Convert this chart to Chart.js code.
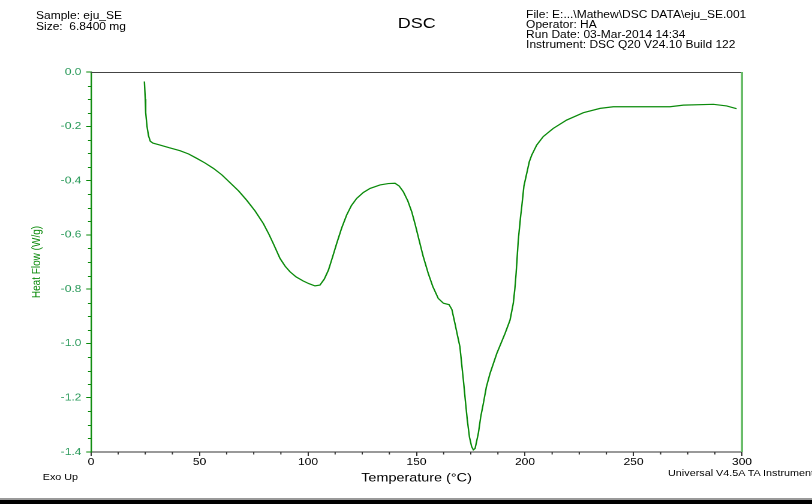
<!DOCTYPE html>
<html><head><meta charset="utf-8">
<script src="https://cdn.jsdelivr.net/npm/chart.js@4.4.0/dist/chart.umd.min.js"></script>
<style>
html,body{margin:0;padding:0;background:#fff;overflow:hidden;}
body{width:812px;height:504px;position:relative;font-family:"Liberation Sans",Arial,sans-serif;}
#wrap{position:absolute;left:0;top:0;width:677px;height:504px;transform:scaleX(1.19941);transform-origin:0 0;}
#box{position:absolute;left:0;top:0;width:677px;height:504px;}
.t{position:absolute;white-space:nowrap;color:#000;}
</style></head><body>
<div id="wrap">
  <div id="box"><canvas id="c"></canvas></div>
  <div class="t" style="left:30px;top:10px;font-size:10px;line-height:11px">Sample: eju_SE<br>Size:&nbsp; 6.8400 mg</div>
  <div class="t" style="left:247.4px;width:200px;text-align:center;top:14.9px;font-size:15px;line-height:15px">DSC</div>
  <div class="t" style="left:438.6px;top:10px;font-size:10px;line-height:10px">File: E:...\Mathew\DSC DATA\eju_SE.001<br>Operator: HA<br>Run Date: 03-Mar-2014 14:34<br>Instrument: DSC Q20 V24.10 Build 122</div>
  <div class="t" style="left:35.6px;top:472.6px;font-size:9px;line-height:9px">Exo Up</div>
  <div class="t" style="left:557px;top:468.5px;font-size:9px;line-height:9px">Universal V4.5A TA Instruments</div>
</div>
<div style="position:absolute;left:0;top:498px;width:812px;height:2px;background:#9a9a9a"></div>
<div style="position:absolute;left:0;top:500px;width:812px;height:4px;background:#000"></div>
<script>
// Data
const temperature = [24.6,25.0,25.2,25.8,26.5,27.3,28.5,31.8,36,41.0,45,48.7,52.5,56.4,60.3,64.1,68,71.7,75.6,79.4,82,84.0,87.1,89.5,91.7,94.5,97.8,100.5,103.2,105.5,107.5,109.4,111.3,113.2,115.5,117.8,120,122.4,125.5,128.6,133.2,137,140.1,142,143.9,146,147.8,149.5,150.8,153.1,155.4,157.5,160.0,162.4,165.0,166.3,167.7,169.0,170.0,171.0,171.6,172.5,173.4,174.4,175.4,176.2,177.0,178.5,179.6,180.8,182.2,183.9,187.0,190.8,193.1,194.6,195.3,195.9,196.9,198.0,198.5,199.5,200.8,202,203.1,205.4,208.4,213.0,219.2,226.9,234.6,240.7,256.1,266.8,273,286.8,292.9,297.5];
const heatFlow = [-0.035,-0.10,-0.15,-0.20,-0.235,-0.255,-0.262,-0.269,-0.279,-0.290,-0.302,-0.318,-0.335,-0.355,-0.379,-0.408,-0.438,-0.472,-0.512,-0.558,-0.598,-0.632,-0.687,-0.716,-0.736,-0.755,-0.770,-0.780,-0.788,-0.785,-0.763,-0.730,-0.682,-0.632,-0.575,-0.527,-0.492,-0.466,-0.444,-0.429,-0.416,-0.411,-0.410,-0.420,-0.441,-0.475,-0.515,-0.565,-0.607,-0.680,-0.742,-0.790,-0.834,-0.852,-0.857,-0.875,-0.926,-0.975,-1.012,-1.09,-1.135,-1.21,-1.282,-1.345,-1.380,-1.392,-1.387,-1.331,-1.27,-1.221,-1.16,-1.110,-1.037,-0.963,-0.914,-0.852,-0.80,-0.742,-0.619,-0.53,-0.496,-0.42,-0.373,-0.33,-0.306,-0.269,-0.238,-0.208,-0.177,-0.150,-0.134,-0.128,-0.128,-0.128,-0.122,-0.119,-0.125,-0.135];
const xRange = [0, 300];
const yRange = [-1.4, 0];
const xMajorStep = 50, xMinorStep = 12.5;
const yMajorStep = 0.2, yMinorStep = 0.05;

const S = 812 / 677;
const AREA = {left: 91 / S, right: 742 / S, top: 72, bottom: 452};
const GREEN = '#0a8a0a';
Chart.defaults.font.family = '"Liberation Sans", Arial, sans-serif';

const points = temperature.map((t, i) => ({x: t, y: heatFlow[i]}));

const frame = {
  id: 'frame',
  afterDraw(chart) {
    const {ctx, chartArea: a, scales: {x, y}} = chart;
    ctx.save();
    ctx.lineWidth = 1;
    ctx.strokeStyle = '#444';
    ctx.beginPath(); ctx.moveTo(a.left, a.top + 0.5); ctx.lineTo(a.right, a.top + 0.5); ctx.stroke();
    ctx.strokeStyle = '#66bb66'; ctx.lineWidth = 1.7;
    ctx.beginPath(); ctx.moveTo(a.right, a.top); ctx.lineTo(a.right, a.bottom); ctx.stroke();
    ctx.lineWidth = 1; ctx.strokeStyle = '#333';
    const nx = Math.round((xRange[1] - xRange[0]) / xMinorStep);
    for (let i = 1; i < nx; i++) {
      if (i % 4 === 0) continue;
      const px = x.getPixelForValue(xRange[0] + i * xMinorStep);
      ctx.beginPath(); ctx.moveTo(px, a.bottom); ctx.lineTo(px, a.bottom + 2.5); ctx.stroke();
    }
    ctx.strokeStyle = GREEN;
    const ny = Math.round((yRange[1] - yRange[0]) / yMinorStep);
    for (let i = 1; i < ny; i++) {
      if (i % 4 === 0) continue;
      const py = Math.round(y.getPixelForValue(yRange[0] + i * yMinorStep)) + 0.5;
      ctx.beginPath(); ctx.moveTo(a.left - 2.5, py); ctx.lineTo(a.left, py); ctx.stroke();
    }
    ctx.restore();
  }
};

new Chart(document.getElementById('c'), {
  type: 'scatter',
  data: {datasets: [{data: points, showLine: true, borderColor: GREEN, borderWidth: 1.2, pointRadius: 0, fill: false, tension: 0}]},
  options: {
    responsive: true, maintainAspectRatio: false, animation: false, events: [], devicePixelRatio: 2,
    layout: {padding: {left: 0, top: AREA.top, right: 677 - AREA.right, bottom: 0}},
    plugins: {legend: {display: false}, tooltip: {enabled: false}},
    scales: {
      x: {
        type: 'linear', min: xRange[0], max: xRange[1], position: 'bottom',
        afterFit(s) { s.height = 504 - AREA.bottom; },
        ticks: {stepSize: xMajorStep, color: '#000', font: {size: 10}, padding: 0, maxRotation: 0, autoSkip: false},
        grid: {drawOnChartArea: false, drawTicks: true, tickLength: 4, tickColor: '#333'},
        border: {color: '#333', width: 1},
        title: {display: true, text: 'Temperature (°C)', color: '#000', font: {size: 12}, padding: {top: 0, bottom: 18.8}}
      },
      y: {
        type: 'linear', min: yRange[0], max: yRange[1], position: 'left',
        afterFit(s) { s.width = AREA.left; },
        ticks: {stepSize: yMajorStep, color: '#2a9a5a', font: {size: 10}, padding: 4, autoSkip: false,
                callback: v => Number(v).toFixed(1)},
        grid: {drawOnChartArea: false, drawTicks: true, tickLength: 4, tickColor: GREEN},
        border: {color: GREEN, width: 1.2},
        title: {display: true, text: 'Heat Flow (W/g)', color: GREEN, font: {size: 10}, padding: {top: 24.6, bottom: 0}}
      }
    }
  },
  plugins: [frame]
});
</script>
</body></html>
